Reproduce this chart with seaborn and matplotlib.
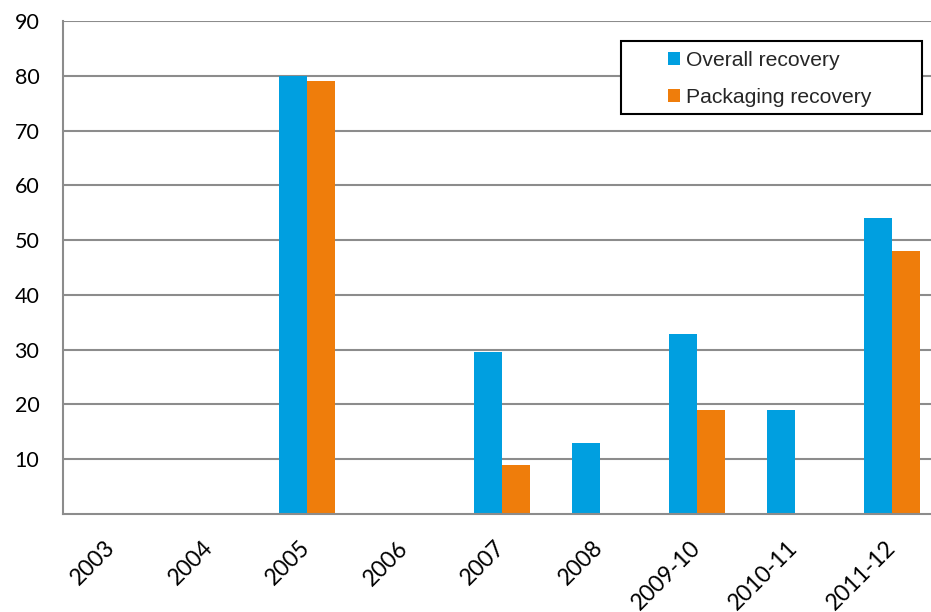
import matplotlib
matplotlib.use("Agg")
import matplotlib.pyplot as plt
from matplotlib.patches import Rectangle
import seaborn as sns
import pandas as pd
import numpy as np

# Recovery rates by period (%)
periods = ["2003", "2004", "2005", "2006", "2007", "2008", "2009-10", "2010-11", "2011-12"]
overall_recovery = [np.nan, np.nan, 80, np.nan, 29.5, 13, 32.8, 18.9, 54]
packaging_recovery = [np.nan, np.nan, 79, np.nan, 9, np.nan, 18.9, np.nan, 48]
series_names = ["Overall recovery", "Packaging recovery"]
colors = ["#009FE0", "#EF7D0B"]
y_ticks = [10, 20, 30, 40, 50, 60, 70, 80, 90]

df = pd.DataFrame({
    "period": periods * 2,
    "value": overall_recovery + packaging_recovery,
    "series": [series_names[0]] * len(periods) + [series_names[1]] * len(periods),
})

sns.set_style("white")
plt.rcParams["font.family"] = ["Lato", "DejaVu Sans"]

W, H = 931, 612
fig = plt.figure(figsize=(W / 100, H / 100), dpi=100)
ax = fig.add_axes([63 / W, 1 - 514 / H, (941 - 63) / W, (514 - 21) / H])

sns.barplot(data=df, x="period", y="value", hue="series", order=periods,
            hue_order=series_names, palette=colors, width=0.575, gap=0,
            saturation=1, linewidth=0, ax=ax, legend=True)

grid_color = "#8c8c8c"
ax.set_ylim(0, 90)
ax.set_yticks(y_ticks)
ax.yaxis.grid(True, color=grid_color, linewidth=1.5)
ax.set_axisbelow(True)
ax.set_xlim(-0.5, len(periods) - 0.5)

for side in ["top", "right"]:
    ax.spines[side].set_visible(False)
for side in ["left", "bottom"]:
    ax.spines[side].set_color(grid_color)
    ax.spines[side].set_linewidth(1.5)

ax.set_xlabel("")
ax.set_ylabel("")
ax.tick_params(axis="both", length=0, colors="black")
ax.tick_params(axis="y", pad=17, labelsize=15.5)
ax.tick_params(axis="x", pad=22, labelsize=16.5)
for lbl in ax.get_xticklabels():
    lbl.set_rotation(45)
    lbl.set_ha("right")
    lbl.set_va("center")
    lbl.set_rotation_mode("anchor")

# Legend entries without frame, boxed by a separate rectangle
handles, labels = ax.get_legend_handles_labels()
leg = ax.legend(handles, labels, loc="upper left",
                bbox_to_anchor=(668 / W, 1 - 51 / H), bbox_transform=fig.transFigure,
                frameon=False,
                prop={"family": ["Liberation Sans"], "size": 15.2},
                handlelength=0.57, handleheight=0.57, handletextpad=0.28,
                borderpad=0, labelspacing=0.86, borderaxespad=0)
leg.set_zorder(6)
box = Rectangle((621 / W, 1 - 114 / H), (922 - 621) / W, (114 - 41) / H,
                transform=fig.transFigure, facecolor="white", edgecolor="black",
                linewidth=1.5, zorder=5, clip_on=False)
ax.add_patch(box)

fig.savefig("out.png", dpi=100)
